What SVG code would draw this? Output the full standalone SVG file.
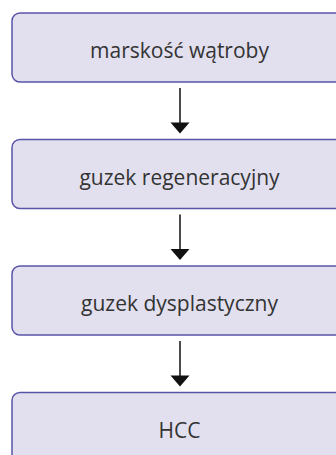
<svg xmlns="http://www.w3.org/2000/svg" width="336" height="455" viewBox="0 0 336 455">
  <defs>
    <style>
      .box { fill: #E2E0EF; stroke: #5953A8; stroke-width: 1.5; }
      .lbl { font-family: "Open Sans", "Noto Sans", sans-serif; font-size: 21px; fill: #333333; text-anchor: middle; }
      .edge { stroke: #111111; stroke-width: 1.5; fill: none; }
      .head { fill: #111111; }
    </style>
  </defs>
  <rect width="336" height="455" fill="#FFFFFF"/>
  <g id="node1">
    <rect class="box" x="12" y="13" width="336" height="69" rx="8"/>
    <text class="lbl" x="179.5" y="58">marskość wątroby</text>
  </g>
  <g id="node2">
    <rect class="box" x="12" y="139.5" width="336" height="69" rx="8"/>
    <text class="lbl" x="179.5" y="184.5">guzek regeneracyjny</text>
  </g>
  <g id="node3">
    <rect class="box" x="12" y="266" width="336" height="69" rx="8"/>
    <text class="lbl" x="179.5" y="311">guzek dysplastyczny</text>
  </g>
  <g id="node4">
    <rect class="box" x="12" y="392.5" width="336" height="69" rx="8"/>
    <text class="lbl" x="179.5" y="437.5">HCC</text>
  </g>
  <g id="connectors">
    <line class="edge" x1="180" y1="88" x2="180" y2="124"/>
    <polygon class="head" points="170.5,122.5 189.5,122.5 180,133.5"/>
    <line class="edge" x1="180" y1="214.5" x2="180" y2="250.5"/>
    <polygon class="head" points="170.5,249 189.5,249 180,260"/>
    <line class="edge" x1="180" y1="341" x2="180" y2="377"/>
    <polygon class="head" points="170.5,375.5 189.5,375.5 180,386.5"/>
  </g>
</svg>
